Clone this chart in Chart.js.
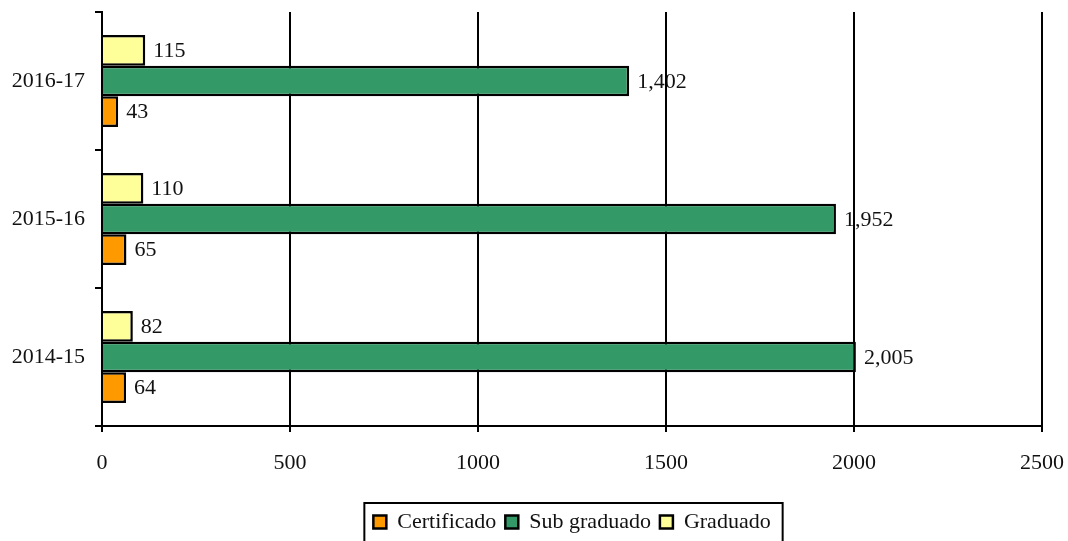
<!DOCTYPE html>
<html>
<head>
<meta charset="utf-8">
<script src="https://cdn.jsdelivr.net/npm/chart.js@4.4.1/dist/chart.umd.min.js"></script>
<style>
  html, body { margin: 0; padding: 0; background: #fff; }
  #wrap { width: 1068px; height: 541px; }
</style>
</head>
<body>
<div id="wrap"><canvas id="c" width="1068" height="541"></canvas></div>
<script>
const categories = ['2016-17', '2015-16', '2014-15'];
const graduado = [115, 110, 82];
const subGraduado = [1402, 1952, 2005];
const certificado = [43, 65, 64];
const xTicks = [0, 500, 1000, 1500, 2000, 2500];

const FONT = "'Liberation Serif', 'Times New Roman', serif";
const FS = 22;
Chart.defaults.font.family = FONT;
Chart.defaults.font.size = FS;
Chart.defaults.color = '#111';

const valueLabels = {
  id: 'valueLabels',
  beforeDraw(chart) {
    const ctx = chart.ctx;
    ctx.save();
    ctx.font = FS + "px " + FONT;
    ctx.fillStyle = '#111';
    ctx.textAlign = 'left';
    ctx.textBaseline = 'middle';
    chart.data.datasets.forEach((ds, i) => {
      const meta = chart.getDatasetMeta(i);
      meta.data.forEach((bar, j) => {
        const v = ds.data[j];
        ctx.fillText(v.toLocaleString('en-US'), bar.x + 8, bar.y + 1);
      });
    });
    ctx.restore();
  }
};

const legendPlace = {
  id: 'legendPlace',
  afterLayout(chart) {
    const lg = chart.legend;
    if (!lg) return;
    const target = (chart.chartArea.left + chart.chartArea.right) / 2;
    const cur = (lg.left + lg.right) / 2;
    const d = target - cur;
    lg.left += d;
    lg.right += d;
    lg.top += 2;
    lg.bottom += 2;
  },
  afterDraw(chart) {
    const lg = chart.legend;
    if (!lg || !lg.legendHitBoxes || !lg.legendHitBoxes.length) return;
    const hb = lg.legendHitBoxes;
    const left = hb[0].left - 9;
    const last = hb[hb.length - 1];
    const right = last.left + last.width + 12;
    const top = hb[0].top - 8;
    const ctx = chart.ctx;
    ctx.save();
    ctx.strokeStyle = '#000';
    ctx.lineWidth = 2;
    ctx.strokeRect(left, top, right - left, 60);
    ctx.restore();
  }
};

function zeroPad(scale) {
  scale.paddingLeft = 0;
  scale.paddingRight = 0;
  scale.paddingTop = 0;
  scale.paddingBottom = 0;
}

new Chart(document.getElementById('c'), {
  type: 'bar',
  data: {
    labels: categories,
    datasets: [
      { label: 'Graduado', data: graduado, backgroundColor: '#FFFF99', borderColor: '#000', borderWidth: 2.5 },
      { label: 'Sub graduado', data: subGraduado, backgroundColor: '#339966', borderColor: '#000', borderWidth: 2.5 },
      { label: 'Certificado', data: certificado, backgroundColor: '#FF9900', borderColor: '#000', borderWidth: 2.5 }
    ]
  },
  options: {
    indexAxis: 'y',
    responsive: false,
    animation: false,
    layout: { padding: { top: 12, right: 26, left: 0, bottom: 0 } },
    datasets: { bar: { categoryPercentage: 0.667, barPercentage: 1.0 } },
    scales: {
      x: {
        type: 'linear',
        min: 0,
        max: 2500,
        afterBuildTicks(scale) { scale.ticks = xTicks.map(v => ({ value: v })); },
        ticks: { padding: 18, color: '#111', font: { size: FS }, callback: (v) => String(v) },
        grid: { color: '#000', lineWidth: 2, tickLength: 6, drawOnChartArea: true, drawTicks: true },
        border: { display: true, color: '#000', width: 2 },
        afterFit(scale) { scale.height = 74; zeroPad(scale); }
      },
      y: {
        type: 'category',
        offset: true,
        ticks: { padding: 10, color: '#111', font: { size: FS } },
        grid: { offset: true, color: '#000', lineWidth: 2, tickLength: 7, drawOnChartArea: false, drawTicks: true },
        border: { display: true, color: '#000', width: 2 },
        afterFit(scale) { scale.width = 102; zeroPad(scale); }
      }
    },
    plugins: {
      legend: {
        position: 'bottom',
        reverse: true,
        labels: { boxWidth: 13, boxHeight: 13, padding: 9, color: '#111', font: { size: FS } }
      },
      tooltip: { enabled: false }
    }
  },
  plugins: [valueLabels, legendPlace]
});
</script>
</body>
</html>
